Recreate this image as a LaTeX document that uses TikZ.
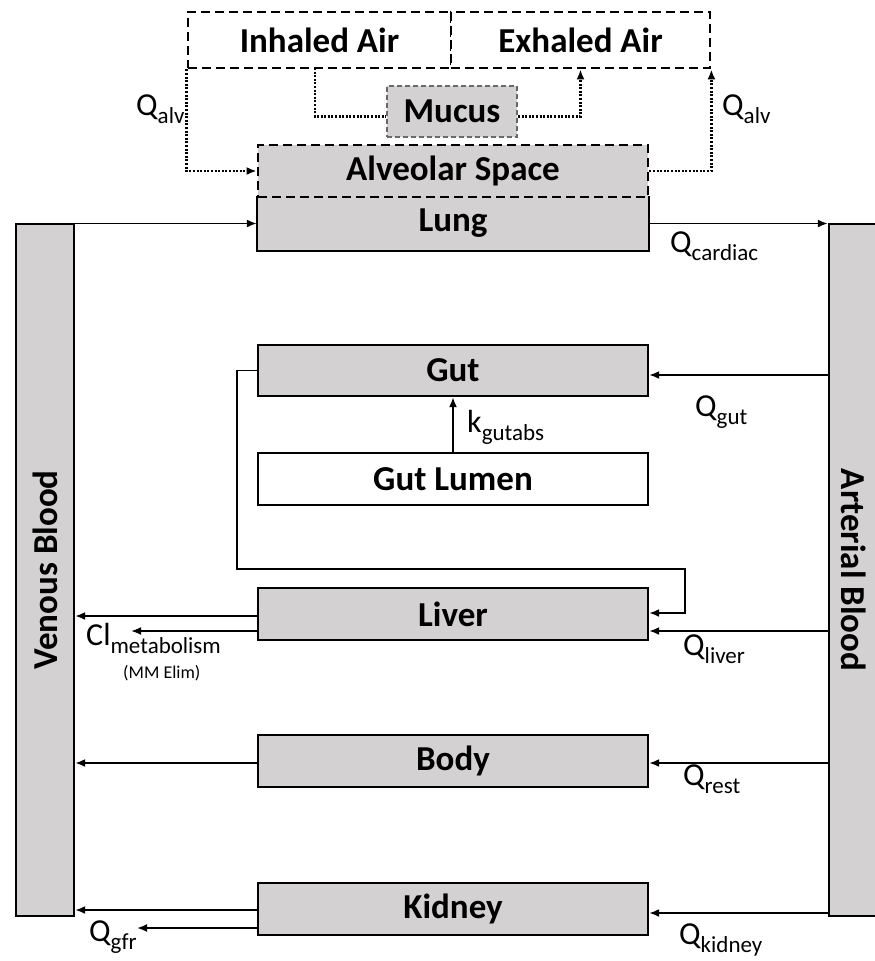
\documentclass[tikz,border=0pt]{standalone}
\usepackage{fontspec}
\setmainfont{Carlito}
\usetikzlibrary{arrows.meta,calc}
\definecolor{boxgray}{RGB}{211,209,209}
\definecolor{mucusline}{RGB}{105,105,105}
\newcommand{\qlab}[2]{{\fontsize{32}{32}\selectfont #1}\raisebox{-8pt}{\fontsize{23}{23}\selectfont #2}}
\begin{document}
\begin{tikzpicture}[x=1pt,y=-1pt,
  organ/.style={draw=black,line width=2.3pt,fill=boxgray,font=\fontsize{35}{35}\selectfont\bfseries,minimum width=390pt,minimum height=52pt,inner sep=0pt},
  organfill/.style={organ,draw=none},
  whitebox/.style={organ,fill=white},
  dashbox/.style={line width=2.8pt,dash pattern=on 9pt off 5pt},
  mucusbox/.style={organ,draw=mucusline,line width=1.8pt,dash pattern=on 5pt off 3pt},
  arr/.style={draw=black,line width=1.9pt,-{Latex[length=10pt,width=8pt]}},
  dotln/.style={draw=black,line width=2.5pt,dash pattern=on 2pt off 1.6pt},
  dotarr/.style={dotln,-{Latex[length=10pt,width=8pt]}},
  lab/.style={anchor=base west,inner sep=0pt}]
\useasboundingbox (0,0) rectangle (875,961);

% air boxes
\node[whitebox,dashbox,minimum width=263pt,minimum height=56pt] (inhaled) at (319.5,40) {Inhaled Air};
\node[whitebox,dashbox,minimum width=259pt,minimum height=56pt] (exhaled) at (580.5,40) {Exhaled Air};
\node[mucusbox,minimum width=130pt,minimum height=51pt] (mucus) at (452,111.5) {Mucus};

% lung
\node[organfill,minimum height=53pt] (lung) at (453,223.5) {Lung};
\draw[line width=2.3pt] (lung.north west) -- (lung.south west) -- (lung.south east) -- (lung.north east);
\node[organ,dashbox,minimum height=52pt] (alv) at (453,171) {Alveolar Space};

% blood
\node[organ,minimum width=58pt,minimum height=692pt] (venous) at (45,570) {\rotatebox{90}{Venous Blood}};
\node[organ,minimum width=50pt,minimum height=692pt] (arterial) at (854,570) {\rotatebox{-90}{Arterial Blood}};

% organs
\node[organ,minimum height=51pt] (gut) at (453,370.5) {Gut};
\node[whitebox,minimum height=52pt] (lumen) at (453,479) {Gut Lumen};
\node[organ] (liver) at (453,614) {Liver};
\node[organ] (body) at (453,761) {Body};
\node[organ] (kidney) at (453,909) {Kidney};

% dotted air flows
\coordinate (m1) at (315,68);
\coordinate (mucR) at ($(mucus.east)+(0,5)$);
\coordinate (mucL) at ($(mucus.west)+(0,5)$);
\draw[dotarr] (inhaled.south west) |- (alv.west);
\draw[dotln] (m1) |- (mucL);
\draw[dotarr] (mucR) -| (exhaled.south);
\draw[dotarr] (alv.east) -| (exhaled.south east);

% lung flows
\draw[arr] (lung.west -| venous.east) -- (lung.west);
\draw[arr] (lung.east) -- (lung.east -| arterial.west);

% gut
\coordinate (gutin) at ($(gut.east)+(0,4.5)$);
\draw[arr] (arterial.west |- gutin) -- (gutin);
\draw[arr] (lumen.north) -- (gut.south);
\coordinate (g1) at (237,569);
\coordinate (g2) at (685,569);
\coordinate (lvin1) at ($(liver.east)+(0,-1)$);
\draw[arr] (gut.west) -| (g1) -- (g2) |- (lvin1);

% liver
\coordinate (lvin2) at ($(liver.east)+(0,17)$);
\draw[arr] (arterial.west |- lvin2) -- (lvin2);
\coordinate (lvout1) at ($(liver.west)+(0,2)$);
\draw[arr] (lvout1) -- (venous.east |- lvout1);
\coordinate (lvout2) at ($(liver.west)+(0,17)$);
\coordinate (clend) at (131,0);
\draw[arr] (lvout2) -- (lvout2 -| clend);

% body
\coordinate (bdin) at ($(body.east)+(0,2)$);
\coordinate (bdout) at ($(body.west)+(0,2)$);
\draw[arr] (arterial.west |- bdin) -- (bdin);
\draw[arr] (bdout) -- (venous.east |- bdout);

% kidney
\coordinate (kin) at ($(kidney.east)+(0,4)$);
\coordinate (kout1) at ($(kidney.west)+(0,1)$);
\coordinate (kout2) at ($(kidney.west)+(0,19)$);
\coordinate (gfrend) at (137,0);
\draw[arr] (arterial.west |- kin) -- (kin);
\draw[arr] (kout1) -- (venous.east |- kout1);
\draw[arr] (kout2) -- (kout2 -| gfrend);

% labels
\node[lab] (qalvl) at (136,115) {\qlab{Q}{alv}};
\node[lab] (qalvr) at (722,115) {\qlab{Q}{alv}};
\node[lab] (qcard) at (670,252) {\qlab{Q}{cardiac}};
\node[lab] (qgut) at (695,416) {\qlab{Q}{gut}};
\node[lab] (kgut) at (467,432) {\qlab{k}{gutabs}};
\node[lab] (qliver) at (683,655) {\qlab{Q}{liver}};
\node[lab] (clmet) at (86,645) {\qlab{Cl}{metabolism}};
\node[lab,font=\fontsize{18}{18}\selectfont] (mmelim) at (123,678) {(MM Elim)};
\node[lab] (qrest) at (683,785) {\qlab{Q}{rest}};
\node[lab] (qgfr) at (89,941) {\qlab{Q}{gfr}};
\node[lab] (qkid) at (679,944) {\qlab{Q}{kidney}};
\end{tikzpicture}
\end{document}
